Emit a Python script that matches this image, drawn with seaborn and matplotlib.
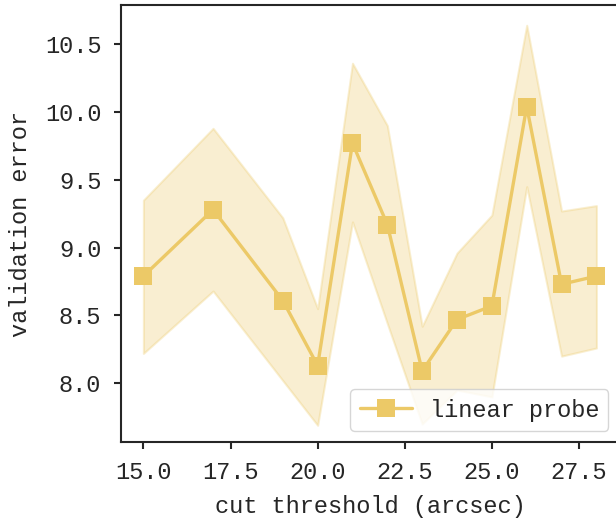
import matplotlib
matplotlib.use("Agg")
import matplotlib.pyplot as plt
import numpy as np
import pandas as pd
import seaborn as sns

# values
cut_threshold = [15, 17, 19, 20, 21, 22, 23, 24, 25, 26, 27, 28]
val_error = [8.79, 9.28, 8.61, 8.13, 9.77, 9.17, 8.09, 8.47, 8.57, 10.04, 8.73, 8.79]
err_upper = [9.35, 9.88, 9.22, 8.55, 10.36, 9.90, 8.42, 8.96, 9.24, 10.64, 9.27, 9.31]
err_lower = [8.22, 8.68, 8.02, 7.69, 9.19, 8.44, 7.70, 7.95, 7.90, 9.45, 8.20, 8.26]
series_name = "linear probe"

color = "#ecc967"

sns.set_style("ticks")
plt.rcParams["font.family"] = ["Liberation Mono", "DejaVu Sans Mono"]
plt.rcParams["font.size"] = 17

df = pd.DataFrame({"cut": cut_threshold, "err": val_error})

fig = plt.figure(figsize=(6.16, 5.25), dpi=100)
ax = fig.add_axes([0.196, 0.1587, 0.809, 0.8309])

ax.fill_between(cut_threshold, err_lower, err_upper, color=color, alpha=0.3,
                linewidth=1.5)
sns.lineplot(data=df, x="cut", y="err", ax=ax, color=color, marker="s",
             markersize=12.5, markeredgewidth=0, linewidth=2.4,
             label=series_name)

ax.set_xlim(14.35, 28.65)
ax.set_ylim(7.569, 10.786)
ax.set_xticks([15.0, 17.5, 20.0, 22.5, 25.0, 27.5])
ax.set_yticks([8.0, 8.5, 9.0, 9.5, 10.0, 10.5])
ax.set_xlabel("cut threshold (arcsec)", labelpad=8)
ax.set_ylabel("validation error", labelpad=9)

for s in ax.spines.values():
    s.set_linewidth(1.5)
    s.set_color("0.15")
ax.tick_params(width=1.5, length=5, labelsize=17, color="0.15", pad=9)

ax.legend(loc="lower right", fontsize=17, handlelength=2.2,
          handletextpad=0.75, borderaxespad=0.45)

fig.savefig("out.png", dpi=100)
